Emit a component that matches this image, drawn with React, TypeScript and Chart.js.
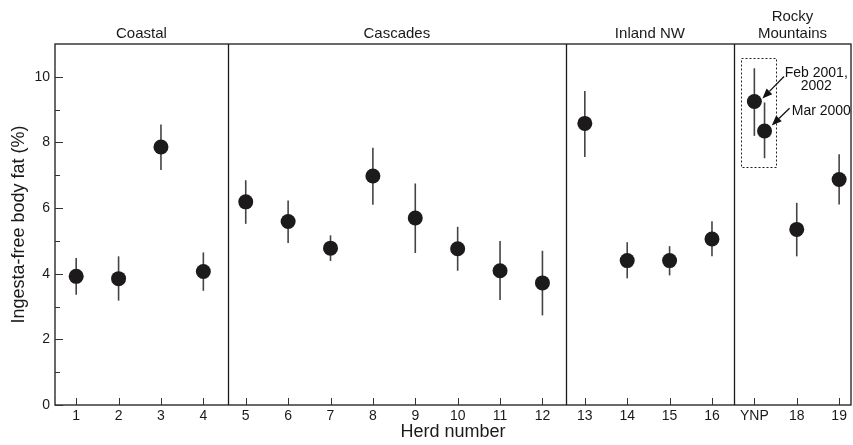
import React, { useEffect, useRef } from 'react';
import { Chart, registerables } from 'chart.js';

Chart.register(...registerables);

// ---- data ----
const herdPositions = [1, 2, 3, 4, 5, 6, 7, 8, 9, 10, 11, 12, 13, 14, 15, 16, 17, 17.24, 18, 19];
const means = [3.92, 3.85, 7.86, 4.07, 6.19, 5.59, 4.78, 6.98, 5.70, 4.76, 4.09, 3.72, 8.58, 4.40, 4.40, 5.06, 9.25, 8.35, 5.35, 6.87];
const lowers = [3.36, 3.18, 7.16, 3.48, 5.52, 4.94, 4.39, 6.10, 4.63, 4.09, 3.20, 2.73, 7.56, 3.86, 3.95, 4.53, 8.20, 7.52, 4.53, 6.11];
const uppers = [4.48, 4.53, 8.55, 4.65, 6.85, 6.23, 5.17, 7.84, 6.75, 5.43, 5.00, 4.70, 9.57, 4.96, 4.84, 5.60, 10.26, 9.22, 6.16, 7.64];

const xTickValues = [1, 2, 3, 4, 5, 6, 7, 8, 9, 10, 11, 12, 13, 14, 15, 16, 17, 18, 19];
const xTickLabels = ['1', '2', '3', '4', '5', '6', '7', '8', '9', '10', '11', '12', '13', '14', '15', '16', 'YNP', '18', '19'];
const yMajorTicks = [0, 2, 4, 6, 8, 10];
const yMinorTicks = [1, 3, 5, 7, 9];

const X_MIN = 0.5;
const X_MAX = 19.28;
const Y_MIN = 0;
const Y_MAX = 11;

const regionDividers = [4.58, 12.55, 16.52];
const regionNames = [['Coastal'], ['Cascades'], ['Inland NW'], ['Rocky', 'Mountains']];

// YNP box & annotations (data units)
const ynpBox = { x0: 16.69, x1: 17.51, y0: 7.26, y1: 10.57 };
const annotationTexts = [
  { lines: ['Feb 2001,', '2002'], x: 18.46, y: 10.11, lineGap: 0.39 },
  { lines: ['Mar 2000'], x: 18.58, y: 8.95, lineGap: 0 },
];
const arrows = [
  { x0: 17.70, y0: 10.01, x1: 17.19, y1: 9.34 },
  { x0: 17.83, y0: 9.04, x1: 17.41, y1: 8.52 },
];

const FONT = '"Liberation Sans", Arial, Helvetica, sans-serif';

const overlayPlugin = {
  id: 'overlay',
  beforeDatasetsDraw(chart: any) {
    const { ctx } = chart;
    const x = chart.scales.x;
    const y = chart.scales.y;
    ctx.save();
    ctx.strokeStyle = '#444';
    ctx.lineWidth = 1.6;
    for (let i = 0; i < herdPositions.length; i++) {
      const px = x.getPixelForValue(herdPositions[i]);
      ctx.beginPath();
      ctx.moveTo(px, y.getPixelForValue(uppers[i]));
      ctx.lineTo(px, y.getPixelForValue(lowers[i]));
      ctx.stroke();
    }
    ctx.restore();
  },
  afterDraw(chart: any) {
    const { ctx, chartArea } = chart;
    const { left, right, top, bottom } = chartArea;
    const x = chart.scales.x;
    const y = chart.scales.y;
    ctx.save();

    // frame
    ctx.strokeStyle = '#1a1a1a';
    ctx.lineWidth = 1.3;
    ctx.strokeRect(left, top, right - left, bottom - top);

    // dividers
    regionDividers.forEach((d) => {
      const px = Math.round(x.getPixelForValue(d)) + 0.5;
      ctx.beginPath();
      ctx.moveTo(px, top);
      ctx.lineTo(px, bottom);
      ctx.stroke();
    });

    // inward ticks
    ctx.lineWidth = 1;
    ctx.strokeStyle = '#333';
    yMajorTicks.forEach((v) => {
      const py = Math.round(y.getPixelForValue(v)) + 0.5;
      ctx.beginPath();
      ctx.moveTo(left, py);
      ctx.lineTo(left + 8, py);
      ctx.stroke();
    });
    yMinorTicks.forEach((v) => {
      const py = Math.round(y.getPixelForValue(v)) + 0.5;
      ctx.beginPath();
      ctx.moveTo(left, py);
      ctx.lineTo(left + 5, py);
      ctx.stroke();
    });
    xTickValues.forEach((v) => {
      const px = Math.round(x.getPixelForValue(v)) + 0.5;
      ctx.beginPath();
      ctx.moveTo(px, bottom);
      ctx.lineTo(px, bottom - 7);
      ctx.stroke();
    });

    // region headers
    ctx.fillStyle = '#1a1a1a';
    ctx.font = `15px ${FONT}`;
    ctx.textAlign = 'center';
    ctx.textBaseline = 'middle';
    const bounds = [X_MIN, ...regionDividers, X_MAX];
    regionNames.forEach((lines, i) => {
      const cx = (x.getPixelForValue(bounds[i]) + x.getPixelForValue(bounds[i + 1])) / 2;
      const n = lines.length;
      lines.forEach((t, j) => {
        ctx.fillText(t, cx, 34 - (n - 1 - j) * 17);
      });
    });

    // dotted box
    ctx.setLineDash([2, 2]);
    ctx.strokeStyle = '#222';
    ctx.lineWidth = 1;
    const bx0 = x.getPixelForValue(ynpBox.x0);
    const bx1 = x.getPixelForValue(ynpBox.x1);
    const by0 = y.getPixelForValue(ynpBox.y1);
    const by1 = y.getPixelForValue(ynpBox.y0);
    ctx.strokeRect(Math.round(bx0) + 0.5, Math.round(by0) + 0.5, Math.round(bx1 - bx0), Math.round(by1 - by0));
    ctx.setLineDash([]);

    // arrows
    ctx.strokeStyle = '#111';
    ctx.fillStyle = '#111';
    ctx.lineWidth = 1.3;
    arrows.forEach((a) => {
      const sx = x.getPixelForValue(a.x0);
      const sy = y.getPixelForValue(a.y0);
      const ex = x.getPixelForValue(a.x1);
      const ey = y.getPixelForValue(a.y1);
      const ang = Math.atan2(ey - sy, ex - sx);
      const hl = 10;
      const hw = 4;
      const bxp = ex - hl * Math.cos(ang);
      const byp = ey - hl * Math.sin(ang);
      ctx.beginPath();
      ctx.moveTo(sx, sy);
      ctx.lineTo(bxp, byp);
      ctx.stroke();
      ctx.beginPath();
      ctx.moveTo(ex, ey);
      ctx.lineTo(bxp + hw * Math.sin(ang), byp - hw * Math.cos(ang));
      ctx.lineTo(bxp - hw * Math.sin(ang), byp + hw * Math.cos(ang));
      ctx.closePath();
      ctx.fill();
    });

    // annotation text
    ctx.font = `14px ${FONT}`;
    ctx.fillStyle = '#111';
    ctx.textAlign = 'center';
    ctx.textBaseline = 'middle';
    annotationTexts.forEach((a) => {
      const cx = x.getPixelForValue(a.x);
      a.lines.forEach((t, j) => {
        ctx.fillText(t, cx, y.getPixelForValue(a.y - j * a.lineGap));
      });
    });

    ctx.restore();
  },
};

export default function App() {
  const canvasRef = useRef<HTMLCanvasElement | null>(null);

  useEffect(() => {
    if (!canvasRef.current) return;
    const points = herdPositions.map((hx, i) => ({ x: hx, y: means[i] }));
    const chart = new Chart(canvasRef.current, {
      type: 'scatter',
      data: {
        datasets: [
          {
            data: points,
            backgroundColor: '#1c1a1b',
            borderColor: '#1c1a1b',
            borderWidth: 0,
            pointRadius: 7.5,
            pointHoverRadius: 7.5,
          },
        ],
      },
      options: {
        responsive: false,
        animation: false,
        events: [],
        layout: { autoPadding: false, padding: { top: 44, right: 2, left: 0, bottom: 0 } },
        plugins: {
          legend: { display: false },
          tooltip: { enabled: false },
        },
        scales: {
          x: {
            type: 'linear',
            min: X_MIN,
            max: X_MAX,
            grid: { display: false, drawTicks: false },
            border: { display: false },
            afterBuildTicks: (scale: any) => {
              scale.ticks = xTickValues.map((v) => ({ value: v }));
            },
            afterFit: (scale: any) => {
              scale.height = 40;
              scale.paddingLeft = 0;
              scale.paddingRight = 0;
            },
            ticks: {
              autoSkip: false,
              maxRotation: 0,
              padding: 3,
              color: '#1a1a1a',
              font: { family: FONT, size: 14 },
              callback: (value: any) => {
                const idx = xTickValues.indexOf(Number(value));
                return idx >= 0 ? xTickLabels[idx] : '';
              },
            },
            title: {
              display: true,
              text: 'Herd number',
              color: '#1a1a1a',
              font: { family: FONT, size: 18 },
              padding: { top: 0, bottom: 2 },
            },
          },
          y: {
            type: 'linear',
            min: Y_MIN,
            max: Y_MAX,
            grid: { display: false, drawTicks: false },
            border: { display: false },
            afterBuildTicks: (scale: any) => {
              scale.ticks = yMajorTicks.map((v) => ({ value: v }));
            },
            afterFit: (scale: any) => {
              scale.width = 55;
            },
            ticks: {
              padding: 5,
              color: '#1a1a1a',
              font: { family: FONT, size: 14 },
            },
            title: {
              display: true,
              text: 'Ingesta-free body fat (%)',
              color: '#1a1a1a',
              font: { family: FONT, size: 18 },
              padding: { top: 8, bottom: 0 },
            },
          },
        },
      },
      plugins: [overlayPlugin],
    });
    return () => chart.destroy();
  }, []);

  return (
    <div style={{ position: 'absolute', left: 0, top: 0, width: 853, height: 445, background: '#fff' }}>
      <canvas ref={canvasRef} width={853} height={445} style={{ display: 'block' }} />
    </div>
  );
}
